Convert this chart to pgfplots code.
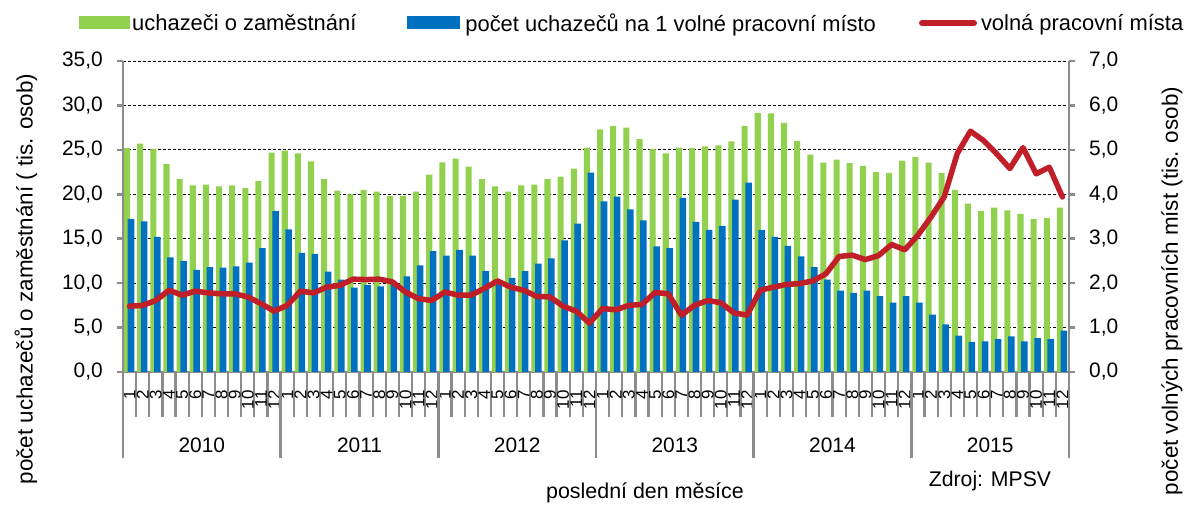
\documentclass[border=0pt]{standalone}
\usepackage{fontspec}
\setmainfont{Liberation Sans}
\usepackage{pgfplots}
\usepackage{pgfplotstable}
\pgfplotsset{compat=1.18}
\definecolor{cgreen}{RGB}{146,208,80}
\definecolor{cblue}{RGB}{0,112,192}
\definecolor{cred}{RGB}{192,30,40}
\definecolor{cgray}{RGB}{140,140,140}
\newcommand\fs[1]{\fontsize{#1}{#1}\selectfont}

\pgfplotstableread{
m g b r
1 25.2 17.2 1.48
2 25.7 16.95 1.50
3 25.1 15.2 1.61
4 23.4 12.9 1.84
5 21.7 12.5 1.73
6 21.0 11.5 1.82
7 21.1 11.8 1.78
8 20.9 11.75 1.76
9 21.0 11.9 1.76
10 20.7 12.3 1.69
11 21.5 13.95 1.54
12 24.7 18.1 1.37
13 24.9 16.05 1.50
14 24.6 13.4 1.82
15 23.7 13.3 1.78
16 21.7 11.3 1.91
17 20.4 10.4 1.95
18 20.0 9.5 2.09
19 20.5 9.8 2.08
20 20.3 9.65 2.09
21 19.8 9.9 2.03
22 19.8 10.75 1.80
23 20.3 12.0 1.65
24 22.2 13.6 1.61
25 23.6 13.1 1.80
26 24.0 13.75 1.73
27 23.1 13.1 1.73
28 21.7 11.35 1.88
29 20.9 10.3 2.05
30 20.3 10.6 1.91
31 21.0 11.35 1.84
32 21.1 12.2 1.70
33 21.7 12.8 1.69
34 22.0 14.8 1.48
35 22.9 16.7 1.37
36 25.25 22.45 1.10
37 27.3 19.2 1.43
38 27.7 19.75 1.40
39 27.5 18.3 1.50
40 26.2 17.05 1.52
41 25.1 14.15 1.79
42 24.6 13.95 1.76
43 25.25 19.6 1.28
44 25.2 16.9 1.50
45 25.4 16.0 1.61
46 25.5 16.45 1.56
47 25.95 19.4 1.33
48 27.7 21.3 1.28
49 29.15 16.0 1.84
50 29.1 15.2 1.91
51 28.05 14.2 1.97
52 26.0 13.0 1.99
53 24.45 11.8 2.05
54 23.55 10.4 2.21
55 23.9 9.15 2.60
56 23.5 8.9 2.63
57 23.2 9.15 2.53
58 22.5 8.55 2.62
59 22.4 7.8 2.87
60 23.8 8.55 2.75
61 24.2 7.8 3.08
62 23.55 6.45 3.49
63 22.4 5.35 3.94
64 20.5 4.1 4.92
65 18.95 3.4 5.42
66 18.1 3.45 5.21
67 18.5 3.7 4.91
68 18.2 4.0 4.58
69 17.8 3.45 5.05
70 17.2 3.8 4.46
71 17.35 3.7 4.61
72 18.5 4.65 3.94
}\data

\pgfplotsset{
  base/.style={width=946bp, height=311bp, scale only axis, xmin=0.5, xmax=72.5,
    at={(0bp,0bp)}, anchor=south west},
  numfmt/.style={/pgf/number format/assume math mode=true,
    yticklabel style={/pgf/number format/fixed, /pgf/number format/fixed zerofill,
      /pgf/number format/precision=1, /pgf/number format/use comma, font=\fs{21}, inner sep=0pt},
    ytick style={cgray, line width=2.5bp}, major tick length=6bp, tick align=outside,
    yticklabel shift=14bp},
}

\begin{document}
\begin{tikzpicture}
\useasboundingbox (-123bp,-135bp) rectangle (1061bp,372bp);

% main axis: bars, left y axis
\begin{axis}[base, numfmt, ymin=0, ymax=35, ytick={0,5,...,35},
  axis x line*=bottom, axis y line*=left, axis line style={draw=cgray, line width=2.5bp, -},
  xtick=\empty, ymajorgrids, grid style={black, line width=0.8bp, dash pattern=on 3bp off 2bp},
  legend columns=3,
  legend style={draw=none, fill=none, inner sep=0pt, font=\fs{22},
    nodes={inner sep=0pt},
    at={(-0.047,1.1222)}, anchor=west,
    /tikz/column 1/.style={column sep=2.5bp},
    /tikz/column 2/.style={column sep=51bp},
    /tikz/column 3/.style={column sep=5bp},
    /tikz/column 4/.style={column sep=43bp},
    /tikz/column 5/.style={column sep=4bp}},
  legend cell align=left]
\addplot[ybar, bar width=0.46, bar shift=-0.19, fill=cgreen, draw=none,
  legend image code/.code={\fill[cgreen] (0bp,-6.5bp) rectangle (51bp,6.5bp);}]
  table[x=m, y=g]{\data};
\addlegendentry{uchazeči o zaměstnání}
\addplot[ybar, bar width=0.5, bar shift=0.11, fill=cblue, draw=none,
  legend image code/.code={\fill[cblue] (0bp,-6.5bp) rectangle (53bp,6.5bp);}]
  table[x=m, y=b]{\data};
\addlegendentry{počet uchazečů na 1 volné pracovní místo}
\addlegendimage{legend image code/.code={\draw[cred, line width=6bp, line cap=round] (3bp,0bp) -- (55bp,0bp);}}
\addlegendentry{volná pracovní místa}
\end{axis}

% right axis: line
\begin{axis}[base, numfmt, ymin=0, ymax=7, ytick={0,1,...,7},
  axis y line*=right, axis x line=none, axis line style={draw=cgray, line width=2.5bp, -},
  yticklabel style={anchor=west}]
\addplot[cred, line width=5.5bp, line join=round, line cap=round, mark=none] table[x=m, y=r]{\data};
\end{axis}

% month ticks and labels
\begin{axis}[base, ymin=0, ymax=1, axis y line=none, axis x line*=bottom,
  axis line style={draw=none},
  xtick={1,...,72},
  xticklabels={1,2,3,4,5,6,7,8,9,10,11,12,1,2,3,4,5,6,7,8,9,10,11,12,1,2,3,4,5,6,7,8,9,10,11,12,1,2,3,4,5,6,7,8,9,10,11,12,1,2,3,4,5,6,7,8,9,10,11,12,1,2,3,4,5,6,7,8,9,10,11,12},
  major tick length=0bp, minor xtick={0.5,1.5,...,72.5}, minor tick length=45bp,
  tick align=outside, xtick style={cgray, line width=2.2bp},
  xticklabel style={rotate=90, anchor=east, font=\fs{17}, inner sep=0pt},
  xticklabel shift=18bp]
\end{axis}

% year separators and labels
\begin{axis}[base, ymin=0, ymax=1, axis y line=none, axis x line*=bottom,
  axis line style={draw=none}, clip=false,
  xtick={0.5,12.5,24.5,36.5,48.5,60.5,72.5}, xticklabels={},
  major tick length=86bp, tick align=outside, xtick style={cgray, line width=2.5bp}]
\node[font=\fs{21}] at ([yshift=-73bp]axis cs:6.5,0) {2010};
\node[font=\fs{21}] at ([yshift=-73bp]axis cs:18.5,0) {2011};
\node[font=\fs{21}] at ([yshift=-73bp]axis cs:30.5,0) {2012};
\node[font=\fs{21}] at ([yshift=-73bp]axis cs:42.5,0) {2013};
\node[font=\fs{21}] at ([yshift=-73bp]axis cs:54.5,0) {2014};
\node[font=\fs{21}] at ([yshift=-73bp]axis cs:66.5,0) {2015};
\end{axis}

\node[rotate=90, font=\fs{22.5}] at (-97bp,93bp) {počet uchazečů o zaměstnání ( tis. osob)};
\node[rotate=90, font=\fs{22.5}] at (1049bp,81bp) {počet volných pracovních míst (tis. osob)};
\node[font=\fs{21.5}] at (522bp,-121bp) {poslední den měsíce};
\node[font=\fs{21.3}] at (867bp,-109bp) {Zdroj: MPSV};
\end{tikzpicture}
\end{document}
